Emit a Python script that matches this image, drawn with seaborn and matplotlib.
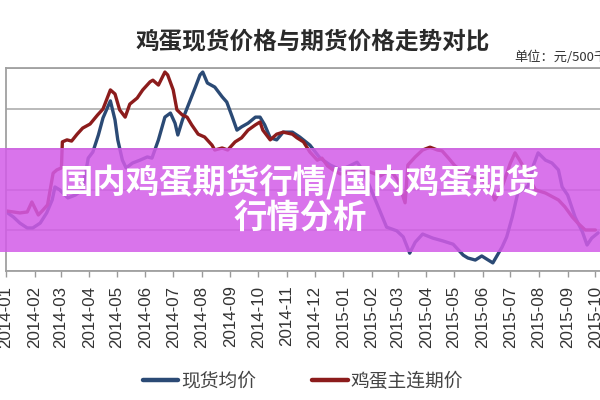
import matplotlib
matplotlib.use("Agg")
import numpy as np
import pandas as pd
import matplotlib.pyplot as plt
import seaborn as sns
from matplotlib.patches import Rectangle
from matplotlib.lines import Line2D

# ---------------- data ----------------
title = "鸡蛋现货价格与期货价格走势对比"
unit_label = "单位：元/500千克"
banner_lines = ["国内鸡蛋期货行情/国内鸡蛋期货", "行情分析"]
series_names = ["现货均价", "鸡蛋主连期价"]
tick_labels = ["2014-01", "2014-02", "2014-03", "2014-04", "2014-05", "2014-06",
               "2014-07", "2014-08", "2014-09", "2014-10", "2014-11", "2014-12",
               "2015-01", "2015-02", "2015-03", "2015-04", "2015-05", "2015-06",
               "2015-07", "2015-08", "2015-09", "2015-10"]

# days since 2014-01-01
spot_days = [0, 8, 15, 23, 29, 37, 44, 50, 53, 58, 67, 75, 83, 89, 94, 100, 105, 113,
             118, 121, 126, 130, 137, 145, 153, 158, 165, 172, 178, 183, 186, 191, 196,
             205, 210, 213, 218, 226, 234, 239, 245, 250, 255, 262, 270, 275, 280, 286,
             293, 300, 310, 318, 329, 340, 351, 362, 372, 380, 386, 394, 402, 412, 423,
             430, 437, 443, 451, 462, 473, 484, 495, 500, 508, 515, 522, 527, 537, 542,
             548, 554, 565, 571, 576, 584, 591, 598, 602, 608, 616, 624, 629, 634, 641]
spot_price = [3730, 3665, 3590, 3530, 3530, 3590, 3715, 3875, 4035, 4000, 3900, 3935,
              4000, 4390, 4465, 4675, 4885, 5095, 4860, 4615, 4365, 4270, 4330, 4365,
              4405, 4390, 4615, 4895, 4945, 4820, 4675, 4860, 5005, 5265, 5415, 5450,
              5315, 5265, 5145, 5080, 4895, 4735, 4775, 4820, 4895, 4895, 4800, 4640,
              4615, 4710, 4710, 4650, 4550, 4390, 4305, 4245, 4295, 4340, 4245, 4035,
              3815, 3540, 3495, 3420, 3220, 3355, 3455, 3405, 3370, 3330, 3195, 3160,
              3135, 3185, 3135, 3100, 3295, 3420, 3665, 3960, 4045, 4305, 4455, 4365,
              4330, 4245, 4035, 3935, 3665, 3480, 3320, 3405, 3470]

fut_days = [0, 8, 15, 23, 28, 35, 40, 45, 51, 55, 60, 61, 66, 71, 77, 83, 91, 99, 105,
            113, 118, 123, 129, 134, 142, 148, 156, 159, 165, 172, 175, 181, 185, 191,
            196, 201, 208, 215, 223, 226, 234, 240, 248, 255, 262, 270, 275, 278, 286,
            293, 300, 310, 315, 322, 329, 337, 342, 348, 354, 362, 372, 383, 394, 405,
            416, 424, 432, 435, 443, 451, 459, 467, 472, 479, 486, 500, 515, 524, 529,
            537, 546, 551, 556, 562, 573, 584, 598, 605, 613, 619, 627, 638]
fut_price = [3740, 3727, 3715, 3727, 3850, 3690, 3750, 3815, 4205, 4245, 4270, 4590,
             4615, 4600, 4685, 4760, 4810, 4920, 4995, 5230, 5180, 4985, 4895, 5055,
             5130, 5230, 5330, 5350, 5290, 5450, 5415, 5230, 4985, 4920, 4895, 4800,
             4685, 4650, 4550, 4490, 4515, 4490, 4590, 4640, 4735, 4800, 4835, 4735,
             4615, 4685, 4710, 4685, 4640, 4590, 4465, 4365, 4390, 4295, 4245, 4195,
             4220, 4270, 4220, 4170, 4245, 4120, 3840, 4305, 4405, 4490, 4525, 4490,
             4480, 4390, 4295, 4180, 4120, 4035, 3875, 4035, 4330, 4455, 4365, 4245,
             4000, 3960, 3875, 3790, 3665, 3590, 3505, 3505]

y_min, y_max, y_step = 3000, 5500, 500

# ---------------- build frame ----------------
base = pd.Timestamp("2014-01-01")
df = pd.concat([
    pd.DataFrame({"date": base + pd.to_timedelta(spot_days, unit="D"),
                  "price": spot_price, "series": series_names[0]}),
    pd.DataFrame({"date": base + pd.to_timedelta(fut_days, unit="D"),
                  "price": fut_price, "series": series_names[1]}),
], ignore_index=True)

sns.set_theme(style="white")
plt.rcParams["font.family"] = ["Noto Sans CJK SC", "DejaVu Sans"]

W, H = 600, 400
fig = plt.figure(figsize=(6, 4), dpi=100)
fig.patch.set_facecolor("white")
ax = fig.add_axes([6 / W, 1 - 271 / H, 594 / W, 203 / H])

colors = {series_names[0]: "#2b4a75", series_names[1]: "#8c1c1c"}
sns.lineplot(data=df, x="date", y="price", hue="series", palette=colors,
             estimator=None, linewidth=2.4, legend=False, ax=ax)

ax.set_xlim(base, base + pd.Timedelta(days=643))
ax.set_ylim(y_min, y_max)
ax.set_yticks(np.arange(y_min, y_max + 1, y_step))
ax.set_yticklabels([])
ax.tick_params(axis="y", length=0)
ax.yaxis.grid(True, color="#b4b4b4", linewidth=1.3)
ax.xaxis.grid(False)

tick_dates = pd.to_datetime([t + "-01" for t in tick_labels])
ax.set_xticks(tick_dates)
ax.set_xticklabels(tick_labels, rotation=90, family="Liberation Sans",
                   fontsize=12.2, color="#333333")
ax.tick_params(axis="x", length=4.5, width=1.0, color="#9a9a9a", pad=6,
               direction="out", bottom=True)
ax.set_xlabel("")
ax.set_ylabel("")
for s in ["left", "bottom", "top"]:
    ax.spines[s].set_visible(True)
    ax.spines[s].set_color("#a0a0a0")
    ax.spines[s].set_linewidth(1.3)
ax.spines["right"].set_visible(False)

# title and unit
fig.text(313 / W, 1 - 41 / H, title, ha="center", va="center", fontsize=17,
         fontweight="bold", color="#2a2a2a")
fig.text(514 / W, 1 - 57 / H, unit_label, ha="left", va="center", fontsize=9.5,
         color="#333333")

# legend
handles = [Line2D([], [], color=colors[n], linewidth=3.2) for n in series_names]
leg = fig.legend(handles, series_names, loc="center", bbox_to_anchor=(0.505, 1 - 381 / H),
                 ncol=2, frameon=False, fontsize=13.5, handlelength=1.9,
                 handletextpad=0.15, columnspacing=3.0)
for t in leg.get_texts():
    t.set_color("#444444")

# overlay banner
fig.add_artist(Rectangle((0, 1 - 252 / H), 1, 104 / H, transform=fig.transFigure,
                         facecolor="#d35ce8", alpha=0.85, edgecolor="none", zorder=5))
fig.text(0.5, 1 - 183 / H, banner_lines[0], ha="center", va="center", fontsize=24,
         fontweight="heavy", color="white", zorder=6)
fig.text(0.5, 1 - 219 / H, banner_lines[1], ha="center", va="center", fontsize=24,
         fontweight="heavy", color="white", zorder=6)

fig.savefig("out.png", dpi=100)
